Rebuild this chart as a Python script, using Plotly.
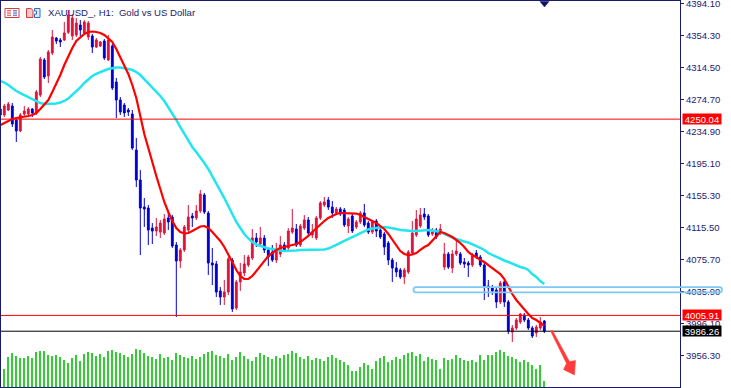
import plotly.graph_objects as go

# ---------------- data (XAUUSD_, H1) ----------------
candle_index = list(range(137))

open_px = [4262.6, 4255.2, 4261.4, 4266.4, 4249.0, 4235.3, 4256.4, 4256.4, 4262.6, 4257.7,
           4280.0, 4323.6, 4303.7, 4332.3, 4350.9, 4348.5, 4348.5, 4358.0, 4353.4, 4354.7,
           4367.1, 4357.2, 4352.2, 4353.4, 4339.7, 4341.0, 4347.2, 4323.6, 4341.0, 4296.2,
           4273.8, 4267.6, 4261.4, 4256.4, 4211.6, 4174.3, 4140.7, 4139.5, 4114.6, 4110.9,
           4109.6, 4108.4, 4127.1, 4128.3, 4093.5, 4073.6, 4087.3, 4112.1, 4129.6, 4127.1,
           4135.8, 4155.7, 4133.3, 4071.1, 4069.9, 4036.3, 4028.8, 4035.0, 4074.8, 4015.1,
           4047.5, 4058.7, 4068.6, 4077.3, 4102.2, 4094.7, 4102.2, 4087.3, 4084.8, 4074.8,
           4082.3, 4093.5, 4089.8, 4109.6, 4113.4, 4093.5, 4114.6, 4124.6, 4105.9, 4102.2,
           4127.1, 4143.2, 4149.5, 4140.7, 4133.3, 4138.3, 4137.0, 4117.1, 4129.6, 4115.9,
           4122.1, 4133.3, 4120.8, 4109.6, 4123.3, 4112.1, 4107.2, 4096.0, 4074.8, 4064.9,
           4062.4, 4053.7, 4059.9, 4083.5, 4105.9, 4117.1, 4132.0, 4129.6, 4107.2, 4112.1,
           4108.4, 4066.1, 4082.3, 4064.9, 4082.3, 4082.3, 4072.3, 4071.1, 4068.6, 4083.5,
           4078.5, 4068.6, 4042.5, 4040.0, 4037.5, 4022.6, 4047.5, 4022.6, 3985.3, 3990.3,
           3997.7, 4006.4, 4000.2, 3990.3, 3984.0, 3990.3, 3998.9]

high_px = [4266.4, 4268.9, 4271.3, 4270.1, 4251.4, 4257.7, 4266.4, 4265.1, 4263.9, 4286.3,
           4327.3, 4326.1, 4336.0, 4360.9, 4352.2, 4350.9, 4370.9, 4385.8, 4380.8, 4375.8,
           4373.3, 4373.3, 4372.1, 4355.9, 4350.9, 4347.2, 4349.7, 4354.7, 4343.5, 4301.2,
           4277.5, 4270.1, 4263.9, 4261.4, 4226.6, 4186.8, 4151.9, 4143.2, 4120.8, 4127.1,
           4124.6, 4132.0, 4137.0, 4130.8, 4097.2, 4089.8, 4118.4, 4143.2, 4133.3, 4143.2,
           4161.9, 4158.2, 4135.8, 4089.8, 4073.6, 4041.2, 4050.0, 4078.5, 4077.3, 4050.0,
           4071.1, 4081.0, 4081.0, 4113.4, 4108.4, 4115.9, 4105.9, 4089.8, 4093.5, 4096.0,
           4104.7, 4097.2, 4114.6, 4138.3, 4119.6, 4119.6, 4130.8, 4128.3, 4119.6, 4129.6,
           4148.2, 4153.2, 4153.2, 4148.2, 4140.7, 4140.7, 4139.5, 4128.3, 4132.0, 4124.6,
           4135.8, 4144.5, 4123.3, 4124.6, 4125.8, 4114.6, 4109.6, 4098.5, 4077.3, 4072.3,
           4064.9, 4064.9, 4087.3, 4123.3, 4137.0, 4139.5, 4139.5, 4132.0, 4114.6, 4114.6,
           4119.6, 4096.0, 4084.8, 4087.3, 4099.7, 4084.8, 4077.3, 4073.6, 4083.5, 4087.3,
           4081.0, 4072.3, 4050.0, 4043.7, 4040.0, 4048.7, 4050.0, 4025.1, 3994.0, 4002.7,
           4009.0, 4009.0, 4002.7, 3992.8, 3994.0, 4004.0, 4000.2]

low_px = [4252.7, 4252.7, 4260.1, 4240.2, 4221.6, 4234.0, 4252.7, 4255.2, 4252.7, 4255.2,
          4277.5, 4299.9, 4294.9, 4329.8, 4343.5, 4339.7, 4347.2, 4355.9, 4348.5, 4352.2,
          4353.4, 4354.7, 4348.5, 4332.3, 4338.5, 4339.7, 4323.6, 4322.3, 4286.3, 4251.4,
          4255.2, 4252.7, 4253.9, 4211.6, 4165.6, 4081.0, 4115.9, 4093.5, 4094.7, 4104.7,
          4102.2, 4105.9, 4112.1, 4089.8, 4003.9, 4064.9, 4084.8, 4109.6, 4115.9, 4124.6,
          4133.3, 4132.0, 4056.2, 4043.7, 4028.8, 4018.9, 4018.9, 4031.3, 4010.2, 4012.6,
          4036.3, 4054.9, 4066.1, 4074.8, 4091.0, 4092.2, 4083.5, 4067.4, 4072.3, 4071.1,
          4078.5, 4084.8, 4087.3, 4107.2, 4091.0, 4091.0, 4112.1, 4105.9, 4102.2, 4099.7,
          4124.6, 4140.7, 4137.0, 4127.1, 4130.8, 4129.6, 4115.9, 4108.4, 4108.4, 4113.4,
          4119.6, 4115.9, 4107.2, 4107.2, 4103.4, 4100.9, 4081.0, 4068.6, 4047.5, 4053.7,
          4051.2, 4044.9, 4057.4, 4081.0, 4103.4, 4114.6, 4124.6, 4103.4, 4104.7, 4100.9,
          4105.9, 4062.4, 4063.6, 4058.7, 4079.8, 4068.6, 4064.9, 4053.7, 4066.1, 4076.1,
          4066.1, 4025.1, 4028.8, 4031.3, 4015.1, 4020.1, 4016.4, 3982.8, 3972.8, 3987.8,
          3995.2, 3997.7, 3987.8, 3977.8, 3979.0, 3987.8, 3984.0]

close_px = [4255.2, 4266.4, 4268.9, 4244.0, 4235.3, 4255.2, 4260.1, 4262.6, 4257.7, 4283.8,
            4324.8, 4302.4, 4333.5, 4352.2, 4347.2, 4346.0, 4357.2, 4379.5, 4375.8, 4369.6,
            4360.9, 4370.9, 4369.6, 4339.7, 4348.5, 4346.0, 4326.1, 4348.5, 4288.8, 4273.8,
            4258.9, 4257.7, 4258.9, 4214.1, 4174.3, 4139.5, 4138.3, 4112.1, 4110.9, 4115.9,
            4120.8, 4125.8, 4122.1, 4092.2, 4073.6, 4087.3, 4115.9, 4128.3, 4127.1, 4135.8,
            4156.9, 4134.5, 4071.1, 4068.6, 4035.0, 4028.8, 4035.0, 4076.1, 4013.9, 4047.5,
            4059.9, 4069.9, 4078.5, 4102.2, 4097.2, 4102.2, 4087.3, 4078.5, 4074.8, 4087.3,
            4093.5, 4087.3, 4110.9, 4114.6, 4093.5, 4117.1, 4124.6, 4108.4, 4109.6, 4127.1,
            4145.7, 4147.0, 4140.7, 4133.3, 4138.3, 4132.0, 4118.4, 4125.8, 4110.9, 4122.1,
            4133.3, 4118.4, 4109.6, 4122.1, 4110.9, 4103.4, 4091.0, 4074.8, 4064.9, 4059.9,
            4053.7, 4062.4, 4084.8, 4108.4, 4125.8, 4130.8, 4128.3, 4105.9, 4109.6, 4103.4,
            4113.4, 4082.3, 4066.1, 4082.3, 4086.0, 4071.1, 4069.9, 4068.6, 4079.8, 4078.5,
            4068.6, 4042.5, 4040.0, 4036.3, 4022.6, 4046.2, 4022.6, 3986.5, 3990.3, 4000.2,
            4007.7, 4000.2, 3990.3, 3980.3, 3991.5, 3997.7, 3986.26]

ma_fast = [4242.7, 4245.2, 4247.7, 4250.2, 4251.4, 4252.1, 4252.7, 4253.9, 4255.2, 4257.7,
           4262.6, 4267.6, 4273.8, 4283.8, 4293.7, 4304.9, 4317.4, 4328.5, 4338.5, 4347.2,
           4352.2, 4355.9, 4358.4, 4359.0, 4358.4, 4357.2, 4354.7, 4350.9, 4346.0, 4337.3,
           4327.3, 4317.4, 4306.2, 4292.5, 4276.3, 4253.9, 4231.5, 4214.1, 4195.5, 4179.3,
           4163.1, 4147.0, 4134.5, 4123.3, 4114.6, 4109.6, 4107.8, 4108.4, 4110.9, 4113.4,
           4116.5, 4117.1, 4114.6, 4109.6, 4104.7, 4098.5, 4091.0, 4082.3, 4072.3, 4062.4,
           4054.9, 4051.2, 4051.2, 4054.9, 4061.1, 4068.6, 4074.8, 4079.8, 4083.5, 4087.3,
           4089.8, 4091.0, 4092.9, 4093.5, 4094.7, 4097.2, 4100.9, 4104.7, 4109.6, 4114.6,
           4119.6, 4123.3, 4127.1, 4129.6, 4132.0, 4133.3, 4133.3, 4133.3, 4133.3, 4132.6,
           4130.8, 4128.3, 4125.8, 4123.3, 4120.8, 4117.1, 4113.4, 4107.2, 4099.7, 4092.2,
           4086.0, 4082.3, 4081.0, 4081.7, 4083.5, 4087.3, 4091.0, 4093.5, 4098.5, 4103.4,
           4109.6, 4108.4, 4105.9, 4103.4, 4099.7, 4096.0, 4091.0, 4084.8, 4081.0, 4078.5,
           4074.8, 4072.3, 4068.6, 4064.9, 4061.1, 4057.4, 4051.2, 4041.2, 4032.5, 4025.1,
           4018.9, 4012.6, 4007.7, 4002.7, 4000.2, 3996.5, 3992.8]

ma_slow = [4297.5, 4295.6, 4292.5, 4288.8, 4285.0, 4282.5, 4280.0, 4278.2, 4275.1, 4272.6,
           4270.1, 4268.9, 4268.9, 4268.9, 4269.5, 4270.7, 4272.6, 4275.7, 4280.0, 4284.4,
           4289.4, 4295.0, 4299.9, 4303.7, 4306.2, 4308.7, 4310.5, 4312.4, 4313.6, 4314.2,
           4314.2, 4313.6, 4312.4, 4311.1, 4308.7, 4304.9, 4299.9, 4295.0, 4290.0, 4285.0,
           4278.8, 4272.6, 4265.1, 4257.7, 4249.0, 4240.2, 4231.5, 4222.9, 4215.4, 4209.1,
           4202.9, 4195.5, 4188.0, 4179.3, 4170.6, 4161.9, 4151.9, 4142.0, 4132.0, 4122.1,
           4114.6, 4107.2, 4101.6, 4097.2, 4094.1, 4092.2, 4090.4, 4089.1, 4088.5, 4087.3,
           4086.7, 4086.0, 4086.0, 4086.0, 4086.7, 4087.3, 4087.3, 4087.3, 4087.3, 4087.3,
           4087.3, 4087.9, 4089.1, 4091.0, 4093.5, 4096.0, 4098.5, 4100.9, 4103.4, 4105.9,
           4108.4, 4110.9, 4112.8, 4114.0, 4114.6, 4115.3, 4115.9, 4115.3, 4114.6, 4113.4,
           4112.1, 4111.5, 4110.9, 4110.9, 4110.9, 4111.5, 4112.1, 4112.1, 4111.5, 4110.9,
           4109.6, 4107.2, 4104.7, 4102.8, 4100.9, 4099.1, 4097.8, 4096.6, 4094.7, 4092.2,
           4089.8, 4087.3, 4083.5, 4081.0, 4078.5, 4076.1, 4074.2, 4072.3, 4069.9, 4068.0,
           4066.1, 4064.9, 4062.4, 4057.4, 4053.7, 4048.7, 4045.0]

tick_volume = [25000, 18000, 30000, 34000, 31000, 29000, 29000, 31000, 29000, 35000,
               36000, 36000, 32000, 31000, 32000, 30000, 27000, 24000, 29000, 32000,
               26000, 33000, 35000, 34000, 31000, 33000, 30000, 36000, 37000, 35000,
               34000, 32000, 30000, 33000, 38000, 37000, 34000, 31000, 30000, 28000,
               33000, 29000, 30000, 27000, 34000, 32000, 30000, 29000, 31000, 28000,
               30000, 33000, 35000, 36000, 32000, 31000, 29000, 33000, 27000, 30000,
               35000, 31000, 28000, 26000, 30000, 34000, 32000, 30000, 28000, 31000,
               29000, 32000, 33000, 36000, 34000, 30000, 28000, 31000, 27000, 29000,
               28000, 26000, 30000, 32000, 29000, 27000, 25000, 22000, 16000, 16000,
               20000, 24000, 22000, 18000, 26000, 29000, 31000, 25000, 27000, 30000,
               28000, 32000, 34000, 35000, 31000, 33000, 26000, 30000, 28000, 27000,
               18000, 29000, 27000, 28000, 32000, 29000, 27000, 26000, 27000, 25000,
               32000, 27000, 32000, 32000, 35000, 37000, 35000, 31000, 30000, 28000,
               25000, 27000, 25000, 22000, 18000, 22000, 6000]

price_ticks = [4394.10, 4354.30, 4314.50, 4274.70, 4234.90, 4195.10,
               4155.30, 4115.50, 4075.70, 4035.90, 3996.10, 3956.30]
price_tick_text = ["4394.10", "4354.30", "4314.50", "4274.70", "4234.90", "4195.10",
                   "4155.30", "4115.50", "4075.70", "4035.90", "3996.10", "3956.30"]

level_upper = 4250.04
level_lower = 4005.91
bid_price = 3986.26
zone_low, zone_high = 4034.6, 4041.2

# ---------------- layout geometry ----------------
W, H = 731, 388
ML, MR, MT, MB = 1, 51, 1, 1
PLOT_H = H - MT - MB
X_RANGE = [0.175, 169.925]
Y_RANGE = [3916.87, 4396.96]
NAVY = "#1b1b6e"
FONT = "Liberation Sans, Arial, sans-serif"


def pxx(x):
    return (x - ML) / (W - ML - MR)


def pxy(y):
    return 1 - (y - MT) / PLOT_H


def price_paper(p):
    return (p - Y_RANGE[0]) / (Y_RANGE[1] - Y_RANGE[0])


def price_pix(p):
    return MT + (1 - price_paper(p)) * PLOT_H


def pt(x, y):
    return f"{pxx(x):.5f},{pxy(y):.5f}"


def poly(points):
    return "M " + " L ".join(pt(x, y) for x, y in points) + " Z"


fig = go.Figure()

fig.add_trace(go.Bar(x=candle_index, y=tick_volume, width=0.25, marker=dict(color="#32CD32", line=dict(width=0)),
                     yaxis="y2", hoverinfo="skip", showlegend=False))

fig.add_trace(go.Candlestick(
    x=candle_index, open=open_px, high=high_px, low=low_px, close=close_px,
    increasing=dict(line=dict(color="#DC143C", width=1), fillcolor="#DC143C"),
    decreasing=dict(line=dict(color="#0000CD", width=1), fillcolor="#0000CD"),
    whiskerwidth=0, hoverinfo="skip", showlegend=False))

fig.add_trace(go.Scatter(x=candle_index, y=ma_slow, mode="lines",
                         line=dict(color="#22E5EE", width=2.5), hoverinfo="skip", showlegend=False))
fig.add_trace(go.Scatter(x=candle_index, y=ma_fast, mode="lines",
                         line=dict(color="#FF0000", width=2.2), hoverinfo="skip", showlegend=False))

shapes = []
for lvl, col in [(level_upper, "#FF0000"), (level_lower, "#FF0000"), (bid_price, "#000000")]:
    shapes.append(dict(type="line", xref="paper", yref="y", x0=0, x1=1, y0=lvl, y1=lvl,
                       line=dict(color=col, width=1), layer="above"))

# zone rectangle with rounded ends (extends into the price scale)
zl, zr = 413.5, 722.0
zt, zb = price_pix(zone_high), price_pix(zone_low)
zm = (zt + zb) / 2
r = 2.5
zone_path = ("M " + pt(zl + r, zt) + " L " + pt(zr - r, zt) +
             " Q " + pt(zr, zt) + " " + pt(zr, zm) +
             " Q " + pt(zr, zb) + " " + pt(zr - r, zb) +
             " L " + pt(zl + r, zb) +
             " Q " + pt(zl, zb) + " " + pt(zl, zm) +
             " Q " + pt(zl, zt) + " " + pt(zl + r, zt) + " Z")
shapes.append(dict(type="path", xref="paper", yref="paper", path=zone_path,
                   line=dict(color="#7EC8F6", width=1.8), layer="above"))

# down arrow drawn on the chart
shapes.append(dict(type="path", xref="paper", yref="paper", layer="above",
                   path=poly([(550.5, 331), (552.5, 330.5), (569.5, 361.5), (575.5, 360.5),
                              (574.5, 375), (563.5, 369.5), (566.5, 363.5)]),
                   fillcolor="#FF3B3B", line=dict(color="#FF3B3B", width=0.5)))

# chart shift marker at top
shapes.append(dict(type="path", xref="paper", yref="paper", layer="above",
                   path=poly([(540, 1.5), (549, 1.5), (544.5, 7)]),
                   fillcolor="#10106a", line=dict(color="#10106a", width=0.5)))

# title icons
shapes.append(dict(type="rect", xref="paper", yref="paper", x0=pxx(5), x1=pxx(19), y0=pxy(17.5), y1=pxy(8.5),
                   line=dict(color="#D83A3A", width=1), fillcolor="white", layer="above"))
for yy in (10.8, 13, 15.2):
    shapes.append(dict(type="line", xref="paper", yref="paper", x0=pxx(7), x1=pxx(11), y0=pxy(yy), y1=pxy(yy),
                       line=dict(color="#D83A3A", width=1), layer="above"))
    shapes.append(dict(type="line", xref="paper", yref="paper", x0=pxx(13), x1=pxx(17), y0=pxy(yy), y1=pxy(yy),
                       line=dict(color="#2E5BB8", width=1), layer="above"))
shapes.append(dict(type="path", xref="paper", yref="paper", layer="above",
                   path=poly([(26.5, 8.5), (31, 8.5), (33, 10.5), (33, 17.5), (26.5, 17.5)]),
                   fillcolor="#F8C8C8", line=dict(color="#D83A3A", width=1)))
shapes.append(dict(type="path", xref="paper", yref="paper", layer="above",
                   path=poly([(34.5, 8.5), (40, 8.5), (40, 17.5), (34.5, 17.5), (34.5, 14), (36.5, 14), (36.5, 11), (34.5, 11)]),
                   fillcolor="#DDE8FA", line=dict(color="#2E6BC8", width=1)))

annotations = [
    dict(xref="paper", yref="paper", x=pxx(45.5), y=pxy(12.5), xanchor="left", yanchor="middle",
         text="XAUUSD_, H1:  Gold vs US Dollar", showarrow=False,
         font=dict(family=FONT, size=9.6, color=NAVY)),
]
for lvl, bg in [(level_upper, "#FF0000"), (level_lower, "#FF0000"), (bid_price, "#000000")]:
    annotations.append(dict(xref="paper", yref="y", x=pxx(682), y=lvl, xanchor="left", yanchor="middle",
                            text=f"{lvl:.2f}", showarrow=False, bgcolor=bg, width=36, height=8, borderpad=1,
                            align="center", font=dict(family=FONT, size=9.5, color="white")))

fig.update_layout(
    width=W, height=H, template="none",
    margin=dict(l=ML, r=MR, t=MT, b=MB, autoexpand=False),
    paper_bgcolor="white", plot_bgcolor="white",
    boxgap=0.35,
    showlegend=False,
    xaxis=dict(range=X_RANGE, showgrid=False, zeroline=False, showticklabels=False, ticks="",
               showline=True, mirror=True, linecolor=NAVY, linewidth=1,
               rangeslider=dict(visible=False), fixedrange=True),
    yaxis=dict(range=Y_RANGE, side="right", showgrid=False, zeroline=False,
               tickmode="array", tickvals=price_ticks, ticktext=price_tick_text,
               ticks="outside", ticklen=3, tickcolor=NAVY, tickwidth=1,
               ticklabeloverflow="allow",
               tickfont=dict(family=FONT, size=9.5, color=NAVY),
               showline=True, mirror=True, linecolor=NAVY, linewidth=1, fixedrange=True),
    yaxis2=dict(overlaying="y", range=[0, 386000], visible=False, fixedrange=True),
    shapes=shapes, annotations=annotations,
)

fig.write_html("out.html", config={"displayModeBar": False},
               post_script="document.body.style.margin='0';document.body.style.padding='0';"
                           "document.body.style.overflow='hidden';")
